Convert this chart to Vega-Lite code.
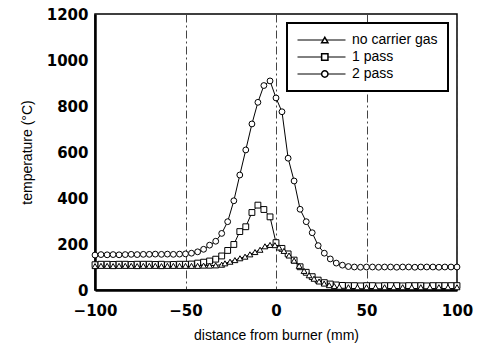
{
  "$schema": "https://vega.github.io/schema/vega-lite/v6.json",
  "width": 362,
  "height": 276,
  "autosize": {"type": "none"},
  "padding": {"left": 95, "top": 14, "right": 24, "bottom": 54},
  "background": "white",
  "config": {
    "view": {"stroke": "black", "strokeWidth": 1.5},
    "font": "Liberation Sans",
    "legend": {"strokeWidth": 2}
  },
  "data": {
    "values": [
      {"series": "2 pass", "x": -100, "temp": 152}, {"series": "2 pass", "x": -96.7, "temp": 154}, {"series": "2 pass", "x": -93.3, "temp": 153}, {"series": "2 pass", "x": -90, "temp": 154}, {"series": "2 pass", "x": -86.7, "temp": 153}, {"series": "2 pass", "x": -83.3, "temp": 154}, {"series": "2 pass", "x": -80, "temp": 155}, {"series": "2 pass", "x": -76.7, "temp": 154}, {"series": "2 pass", "x": -73.3, "temp": 155}, {"series": "2 pass", "x": -70, "temp": 155}, {"series": "2 pass", "x": -66.7, "temp": 156}, {"series": "2 pass", "x": -63.3, "temp": 155}, {"series": "2 pass", "x": -60, "temp": 156}, {"series": "2 pass", "x": -56.7, "temp": 155}, {"series": "2 pass", "x": -53.3, "temp": 156}, {"series": "2 pass", "x": -50, "temp": 157}, {"series": "2 pass", "x": -46.7, "temp": 160}, {"series": "2 pass", "x": -43.3, "temp": 166}, {"series": "2 pass", "x": -40, "temp": 177}, {"series": "2 pass", "x": -36.7, "temp": 195}, {"series": "2 pass", "x": -33.3, "temp": 212}, {"series": "2 pass", "x": -30, "temp": 246}, {"series": "2 pass", "x": -26.7, "temp": 297}, {"series": "2 pass", "x": -23.3, "temp": 388}, {"series": "2 pass", "x": -20, "temp": 500}, {"series": "2 pass", "x": -16.7, "temp": 609}, {"series": "2 pass", "x": -13.3, "temp": 722}, {"series": "2 pass", "x": -10, "temp": 816}, {"series": "2 pass", "x": -6.7, "temp": 889}, {"series": "2 pass", "x": -3.3, "temp": 909}, {"series": "2 pass", "x": 0, "temp": 835}, {"series": "2 pass", "x": 3.3, "temp": 775}, {"series": "2 pass", "x": 6.7, "temp": 573}, {"series": "2 pass", "x": 10, "temp": 474}, {"series": "2 pass", "x": 13.3, "temp": 351}, {"series": "2 pass", "x": 16.7, "temp": 297}, {"series": "2 pass", "x": 20, "temp": 249}, {"series": "2 pass", "x": 23.3, "temp": 193}, {"series": "2 pass", "x": 26.7, "temp": 160}, {"series": "2 pass", "x": 30, "temp": 135}, {"series": "2 pass", "x": 33.3, "temp": 117}, {"series": "2 pass", "x": 36.7, "temp": 108}, {"series": "2 pass", "x": 40, "temp": 102}, {"series": "2 pass", "x": 43.3, "temp": 100}, {"series": "2 pass", "x": 46.7, "temp": 99}, {"series": "2 pass", "x": 50, "temp": 100}, {"series": "2 pass", "x": 53.3, "temp": 100}, {"series": "2 pass", "x": 56.7, "temp": 99}, {"series": "2 pass", "x": 60, "temp": 100}, {"series": "2 pass", "x": 63.3, "temp": 100}, {"series": "2 pass", "x": 66.7, "temp": 99}, {"series": "2 pass", "x": 70, "temp": 100}, {"series": "2 pass", "x": 73.3, "temp": 100}, {"series": "2 pass", "x": 76.7, "temp": 99}, {"series": "2 pass", "x": 80, "temp": 100}, {"series": "2 pass", "x": 83.3, "temp": 100}, {"series": "2 pass", "x": 86.7, "temp": 100}, {"series": "2 pass", "x": 90, "temp": 99}, {"series": "2 pass", "x": 93.3, "temp": 100}, {"series": "2 pass", "x": 96.7, "temp": 100}, {"series": "2 pass", "x": 100, "temp": 100},

      {"series": "1 pass", "x": -100, "temp": 110}, {"series": "1 pass", "x": -96.7, "temp": 112}, {"series": "1 pass", "x": -93.3, "temp": 112}, {"series": "1 pass", "x": -90, "temp": 111}, {"series": "1 pass", "x": -86.7, "temp": 112}, {"series": "1 pass", "x": -83.3, "temp": 112}, {"series": "1 pass", "x": -80, "temp": 111}, {"series": "1 pass", "x": -76.7, "temp": 112}, {"series": "1 pass", "x": -73.3, "temp": 112}, {"series": "1 pass", "x": -70, "temp": 112}, {"series": "1 pass", "x": -66.7, "temp": 111}, {"series": "1 pass", "x": -63.3, "temp": 112}, {"series": "1 pass", "x": -60, "temp": 110}, {"series": "1 pass", "x": -56.7, "temp": 111}, {"series": "1 pass", "x": -53.3, "temp": 112}, {"series": "1 pass", "x": -50, "temp": 112}, {"series": "1 pass", "x": -46.7, "temp": 113}, {"series": "1 pass", "x": -43.3, "temp": 117}, {"series": "1 pass", "x": -40, "temp": 121}, {"series": "1 pass", "x": -36.7, "temp": 126}, {"series": "1 pass", "x": -33.3, "temp": 134}, {"series": "1 pass", "x": -30, "temp": 148}, {"series": "1 pass", "x": -26.7, "temp": 172}, {"series": "1 pass", "x": -23.3, "temp": 198}, {"series": "1 pass", "x": -20, "temp": 254}, {"series": "1 pass", "x": -16.7, "temp": 275}, {"series": "1 pass", "x": -13.3, "temp": 337}, {"series": "1 pass", "x": -10, "temp": 369}, {"series": "1 pass", "x": -6.7, "temp": 350}, {"series": "1 pass", "x": -3.3, "temp": 318}, {"series": "1 pass", "x": 0, "temp": 206}, {"series": "1 pass", "x": 3.3, "temp": 181}, {"series": "1 pass", "x": 6.7, "temp": 157}, {"series": "1 pass", "x": 10, "temp": 130}, {"series": "1 pass", "x": 13.3, "temp": 101}, {"series": "1 pass", "x": 16.7, "temp": 77}, {"series": "1 pass", "x": 20, "temp": 58}, {"series": "1 pass", "x": 23.3, "temp": 43}, {"series": "1 pass", "x": 26.7, "temp": 32}, {"series": "1 pass", "x": 30, "temp": 26}, {"series": "1 pass", "x": 33.3, "temp": 22}, {"series": "1 pass", "x": 36.7, "temp": 20}, {"series": "1 pass", "x": 40, "temp": 19}, {"series": "1 pass", "x": 43.3, "temp": 19}, {"series": "1 pass", "x": 46.7, "temp": 18}, {"series": "1 pass", "x": 50, "temp": 19}, {"series": "1 pass", "x": 53.3, "temp": 19}, {"series": "1 pass", "x": 56.7, "temp": 18}, {"series": "1 pass", "x": 60, "temp": 19}, {"series": "1 pass", "x": 63.3, "temp": 19}, {"series": "1 pass", "x": 66.7, "temp": 19}, {"series": "1 pass", "x": 70, "temp": 18}, {"series": "1 pass", "x": 73.3, "temp": 19}, {"series": "1 pass", "x": 76.7, "temp": 19}, {"series": "1 pass", "x": 80, "temp": 19}, {"series": "1 pass", "x": 83.3, "temp": 18}, {"series": "1 pass", "x": 86.7, "temp": 19}, {"series": "1 pass", "x": 90, "temp": 19}, {"series": "1 pass", "x": 93.3, "temp": 19}, {"series": "1 pass", "x": 96.7, "temp": 19}, {"series": "1 pass", "x": 100, "temp": 19},

      {"series": "no carrier gas", "x": -100, "temp": 104}, {"series": "no carrier gas", "x": -96.7, "temp": 105}, {"series": "no carrier gas", "x": -93.3, "temp": 105}, {"series": "no carrier gas", "x": -90, "temp": 104}, {"series": "no carrier gas", "x": -86.7, "temp": 105}, {"series": "no carrier gas", "x": -83.3, "temp": 105}, {"series": "no carrier gas", "x": -80, "temp": 105}, {"series": "no carrier gas", "x": -76.7, "temp": 104}, {"series": "no carrier gas", "x": -73.3, "temp": 105}, {"series": "no carrier gas", "x": -70, "temp": 105}, {"series": "no carrier gas", "x": -66.7, "temp": 105}, {"series": "no carrier gas", "x": -63.3, "temp": 104}, {"series": "no carrier gas", "x": -60, "temp": 105}, {"series": "no carrier gas", "x": -56.7, "temp": 105}, {"series": "no carrier gas", "x": -53.3, "temp": 105}, {"series": "no carrier gas", "x": -50, "temp": 105}, {"series": "no carrier gas", "x": -46.7, "temp": 105}, {"series": "no carrier gas", "x": -43.3, "temp": 105}, {"series": "no carrier gas", "x": -40, "temp": 106}, {"series": "no carrier gas", "x": -36.7, "temp": 106}, {"series": "no carrier gas", "x": -33.3, "temp": 107}, {"series": "no carrier gas", "x": -30, "temp": 110}, {"series": "no carrier gas", "x": -28.2, "temp": 116}, {"series": "no carrier gas", "x": -25.4, "temp": 123}, {"series": "no carrier gas", "x": -22.7, "temp": 130}, {"series": "no carrier gas", "x": -19.9, "temp": 138}, {"series": "no carrier gas", "x": -17.1, "temp": 145}, {"series": "no carrier gas", "x": -14.4, "temp": 155}, {"series": "no carrier gas", "x": -11.6, "temp": 165}, {"series": "no carrier gas", "x": -8.8, "temp": 175}, {"series": "no carrier gas", "x": -6.1, "temp": 190}, {"series": "no carrier gas", "x": -3.3, "temp": 196}, {"series": "no carrier gas", "x": -0.6, "temp": 195}, {"series": "no carrier gas", "x": 1.7, "temp": 185}, {"series": "no carrier gas", "x": 4.4, "temp": 170}, {"series": "no carrier gas", "x": 7.2, "temp": 150}, {"series": "no carrier gas", "x": 10, "temp": 128}, {"series": "no carrier gas", "x": 12.8, "temp": 105}, {"series": "no carrier gas", "x": 15.5, "temp": 83}, {"series": "no carrier gas", "x": 18.3, "temp": 64}, {"series": "no carrier gas", "x": 21, "temp": 49}, {"series": "no carrier gas", "x": 23.8, "temp": 37}, {"series": "no carrier gas", "x": 26.6, "temp": 28}, {"series": "no carrier gas", "x": 29.4, "temp": 21}, {"series": "no carrier gas", "x": 32.2, "temp": 17}, {"series": "no carrier gas", "x": 35, "temp": 14}, {"series": "no carrier gas", "x": 40, "temp": 12}, {"series": "no carrier gas", "x": 45, "temp": 12}, {"series": "no carrier gas", "x": 50, "temp": 12}, {"series": "no carrier gas", "x": 55, "temp": 12}, {"series": "no carrier gas", "x": 60, "temp": 12}, {"series": "no carrier gas", "x": 65, "temp": 12}, {"series": "no carrier gas", "x": 70, "temp": 12}, {"series": "no carrier gas", "x": 75, "temp": 12}, {"series": "no carrier gas", "x": 80, "temp": 12}, {"series": "no carrier gas", "x": 85, "temp": 12}, {"series": "no carrier gas", "x": 90, "temp": 12}, {"series": "no carrier gas", "x": 95, "temp": 12}, {"series": "no carrier gas", "x": 100, "temp": 12}
    ]
  },
  "encoding": {
    "x": {
      "field": "x", "type": "quantitative",
      "scale": {"domain": [-100, 100], "nice": false, "zero": false},
      "axis": {
        "title": "distance from burner (mm)",
        "values": [-100, -50, 0, 50, 100],
        "labelFlush": false,
        "labelFont": "DejaVu Sans", "labelFontWeight": "bold", "labelFontSize": 15, "labelColor": "black",
        "labelPadding": 13, "ticks": false,
        "domain": true, "domainColor": "black", "domainWidth": 2.5,
        "grid": true, "gridColor": "#444", "gridDash": [8, 3, 2, 3], "gridWidth": 1, "gridOpacity": 1,
        "titleFont": "Liberation Sans", "titleFontSize": 14, "titleFontWeight": "normal", "titleColor": "black", "titlePadding": 10
      }
    },
    "y": {
      "field": "temp", "type": "quantitative",
      "scale": {"domain": [0, 1200], "nice": false},
      "axis": {
        "title": "temperature (°C)",
        "values": [0, 200, 400, 600, 800, 1000, 1200],
        "format": "d",
        "labelFlush": false,
        "labelFont": "DejaVu Sans", "labelFontWeight": "bold", "labelFontSize": 15, "labelColor": "black",
        "labelPadding": 7, "ticks": false,
        "domain": true, "domainColor": "black", "domainWidth": 2.5,
        "grid": false,
        "titleFont": "Liberation Sans", "titleFontSize": 14, "titleFontWeight": "normal", "titleColor": "black", "titlePadding": 12
      }
    }
  },
  "layer": [
    {
      "mark": {"type": "line", "strokeWidth": 1},
      "encoding": {
        "color": {
          "field": "series", "type": "nominal",
          "sort": ["no carrier gas", "1 pass", "2 pass"],
          "scale": {"range": ["black", "black", "black"]},
          "legend": {
            "title": null,
            "orient": "none",
            "legendX": 192,
            "legendY": 9,
            "padding": 10,
            "zindex": 1,
            "strokeColor": "black",
            "fillColor": "white",
            "labelFont": "Liberation Sans",
            "labelFontSize": 14,
            "labelColor": "black",
            "symbolType": "stroke",
            "symbolSize": 2304,
            "symbolStrokeWidth": 1,
            "symbolOffset": 0,
            "labelOffset": 6,
            "clipHeight": 14,
            "rowPadding": 3
          }
        }
      }
    },
    {
      "mark": {"type": "point", "filled": true, "fill": "white", "stroke": "black", "strokeWidth": 1, "opacity": 1, "size": 34},
      "encoding": {
        "shape": {
          "field": "series", "type": "nominal",
          "scale": {"domain": ["no carrier gas", "1 pass", "2 pass"], "range": ["triangle-up", "square", "circle"]},
          "legend": {
            "title": null,
            "orient": "none",
            "legendX": 192,
            "legendY": 9,
            "padding": 10,
            "zindex": 2,
            "strokeColor": "transparent",
            "fillColor": "transparent",
            "labelFont": "Liberation Sans",
            "labelFontSize": 14,
            "labelExpr": "''",
            "symbolSize": 40,
            "symbolOffset": 20.8,
            "labelOffset": 6,
            "clipHeight": 14,
            "rowPadding": 3
          }
        }
      }
    }
  ]
}
